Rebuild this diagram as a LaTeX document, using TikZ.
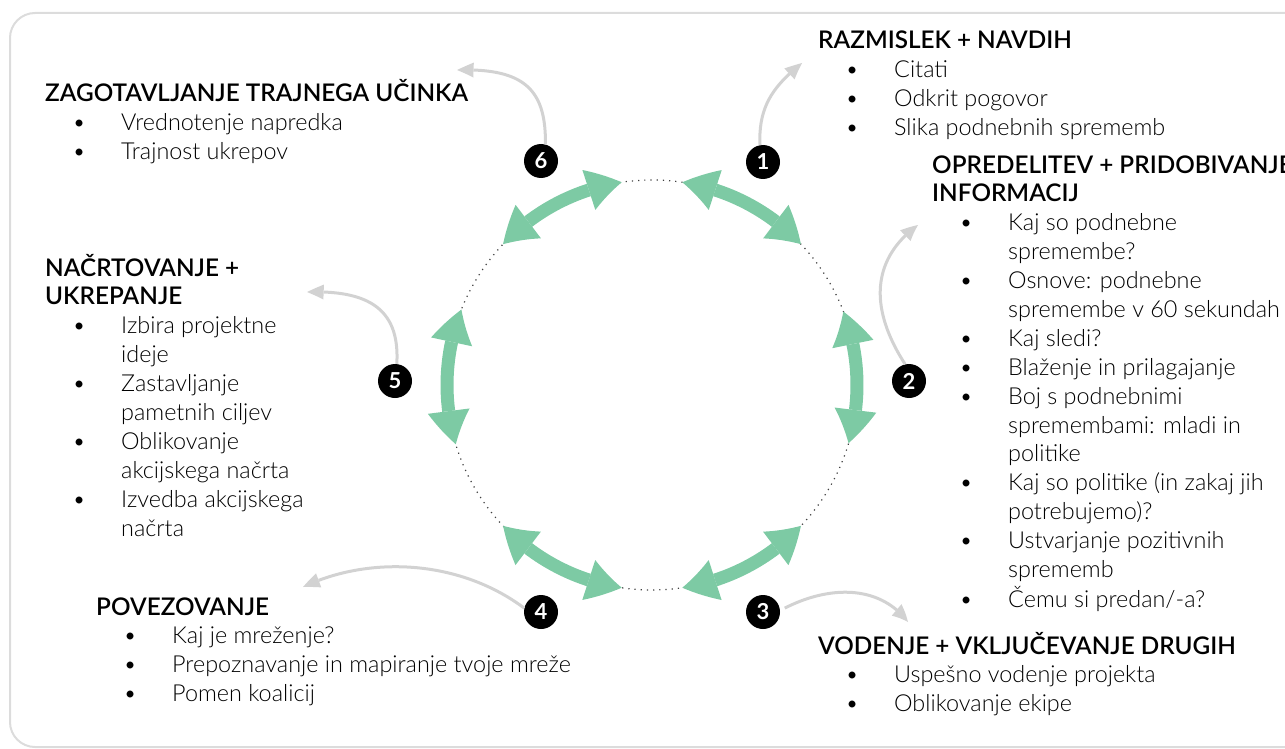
\documentclass[tikz,border=0pt]{standalone}
\usepackage{fontspec}
\setmainfont{Lato}
\newfontfamily\lightfont{Lato Light}
\usetikzlibrary{arrows.meta,bending,calc}
\definecolor{grn}{RGB}{125,202,164}
\definecolor{arrgray}{RGB}{210,210,210}
\definecolor{framegray}{RGB}{220,220,220}
\newcommand{\hd}{\fontsize{24.3}{28.9}\selectfont\bfseries}
\newcommand{\bl}{\makebox[76pt][l]{\hspace{34pt}\makebox[0pt]{•}}}
\tikzset{
  block/.style={anchor=base west, inner sep=0pt, font=\lightfont\fontsize{23.4}{28.9}\selectfont},
  garrow/.style={draw=grn, line width=13pt,
    {Triangle[length=34pt,width=42pt,line width=0pt,bend]}-{Triangle[length=34pt,width=42pt,line width=0pt,bend]}},
  garr/.style={draw=arrgray, line width=3pt, -{Triangle[length=17pt,width=15pt,line width=0pt,bend]}},
  badge/.style={circle, fill=black, minimum size=34pt, inner sep=0pt, text=white, font=\fontsize{22}{22}\selectfont\bfseries}
}
\begin{document}
\begin{tikzpicture}[x=1pt,y=1pt]
\useasboundingbox (0,0) rectangle (1285,-749);
\draw[framegray, line width=2pt, rounded corners=25pt] (10,-13) rectangle (1320,-747);

% cycle
\coordinate (c) at (652,-385);
\draw[black!75, line width=1.2pt, dash pattern=on 1.2pt off 5pt] (c) circle[radius=205];
\foreach \a/\b in {81.5/43.4, 21/-16.5, -43.4/-81.5, -98.5/-136.6, 196.8/158.4, 136.6/98.5}
  \draw[garrow] ($(c)+(\a:205)$) arc[start angle=\a, end angle=\b, radius=205];

% badges
\node[badge] (b6) at (541,-161) {6};
\node[badge] (b1) at (763,-162) {1};
\node[badge] (b2) at (909,-381) {2};
\node[badge] (b5) at (395,-381) {5};
\node[badge] (b4) at (541,-612) {4};
\node[badge] (b3) at (763,-612) {3};

% gray arrows
\coordinate (g1) at (802,-63);
\coordinate (g6) at (457,-70);
\coordinate (g2) at (918,-225);
\coordinate (g5) at (307,-292);
\coordinate (g4) at (303,-587);
\coordinate (g3) at (908,-622);
\draw[garr] (b1.100) .. controls (758,-105) and (775,-85) .. (g1);
\draw[garr] (b6.75) .. controls (546,-90) and (525,-68) .. (g6);
\draw[garr] (b2.103) .. controls (870,-310) and (870,-260) .. (g2);
\draw[garr] (b5.84) .. controls (400,-310) and (370,-290) .. (g5);
\draw[garr] (b4.167) .. controls (460,-560) and (370,-555) .. (g4);
\draw[garr] ([xshift=5pt]b3.13) .. controls (830,-585) and (880,-585) .. (g3);

% text blocks
\node[block] (t1) at (818,-49) {\begin{tabular}[t]{@{}l@{}l@{}}
\multicolumn{2}{@{}l@{}}{\hd RAZMISLEK + NAVDIH}\\
\bl & Citati\\
\bl & Odkrit pogovor\\
\bl & Slika podnebnih sprememb
\end{tabular}};

\node[block] (t2) at (932,-173) {\begin{tabular}[t]{@{}l@{}l@{}}
\multicolumn{2}{@{}l@{}}{\hd OPREDELITEV + PRIDOBIVANJE}\\
\multicolumn{2}{@{}l@{}}{\hd INFORMACIJ}\\
\bl & Kaj so podnebne\\
 & spremembe?\\
\bl & Osnove: podnebne\\
 & spremembe v 60 sekundah\\
\bl & Kaj sledi?\\
\bl & Blaženje in prilagajanje\\
\bl & Boj s podnebnimi\\
 & spremembami: mladi in\\
 & politike\\
\bl & Kaj so politike (in zakaj jih\\
 & potrebujemo)?\\
\bl & Ustvarjanje pozitivnih\\
 & sprememb\\
\bl & Čemu si predan/-a?
\end{tabular}};

\node[block] (t3) at (818,-654) {\begin{tabular}[t]{@{}l@{}l@{}}
\multicolumn{2}{@{}l@{}}{\hd VODENJE + VKLJUČEVANJE DRUGIH}\\
\bl & Uspešno vodenje projekta\\
\bl & Oblikovanje ekipe
\end{tabular}};

\node[block] (t4) at (96,-615) {\begin{tabular}[t]{@{}l@{}l@{}}
\multicolumn{2}{@{}l@{}}{\hd POVEZOVANJE}\\
\bl & Kaj je mreženje?\\
\bl & Prepoznavanje in mapiranje tvoje mreže\\
\bl & Pomen koalicij
\end{tabular}};

\node[block] (t5) at (45,-276) {\begin{tabular}[t]{@{}l@{}l@{}}
\multicolumn{2}{@{}l@{}}{\hd NAČRTOVANJE +}\\
\multicolumn{2}{@{}l@{}}{\hd UKREPANJE}\\
\bl & Izbira projektne\\
 & ideje\\
\bl & Zastavljanje\\
 & pametnih ciljev\\
\bl & Oblikovanje\\
 & akcijskega načrta\\
\bl & Izvedba akcijskega\\
 & načrta
\end{tabular}};

\node[block] (t6) at (45,-102) {\begin{tabular}[t]{@{}l@{}l@{}}
\multicolumn{2}{@{}l@{}}{\hd ZAGOTAVLJANJE TRAJNEGA UČINKA}\\
\bl & Vrednotenje napredka\\
\bl & Trajnost ukrepov
\end{tabular}};
\end{tikzpicture}
\end{document}
